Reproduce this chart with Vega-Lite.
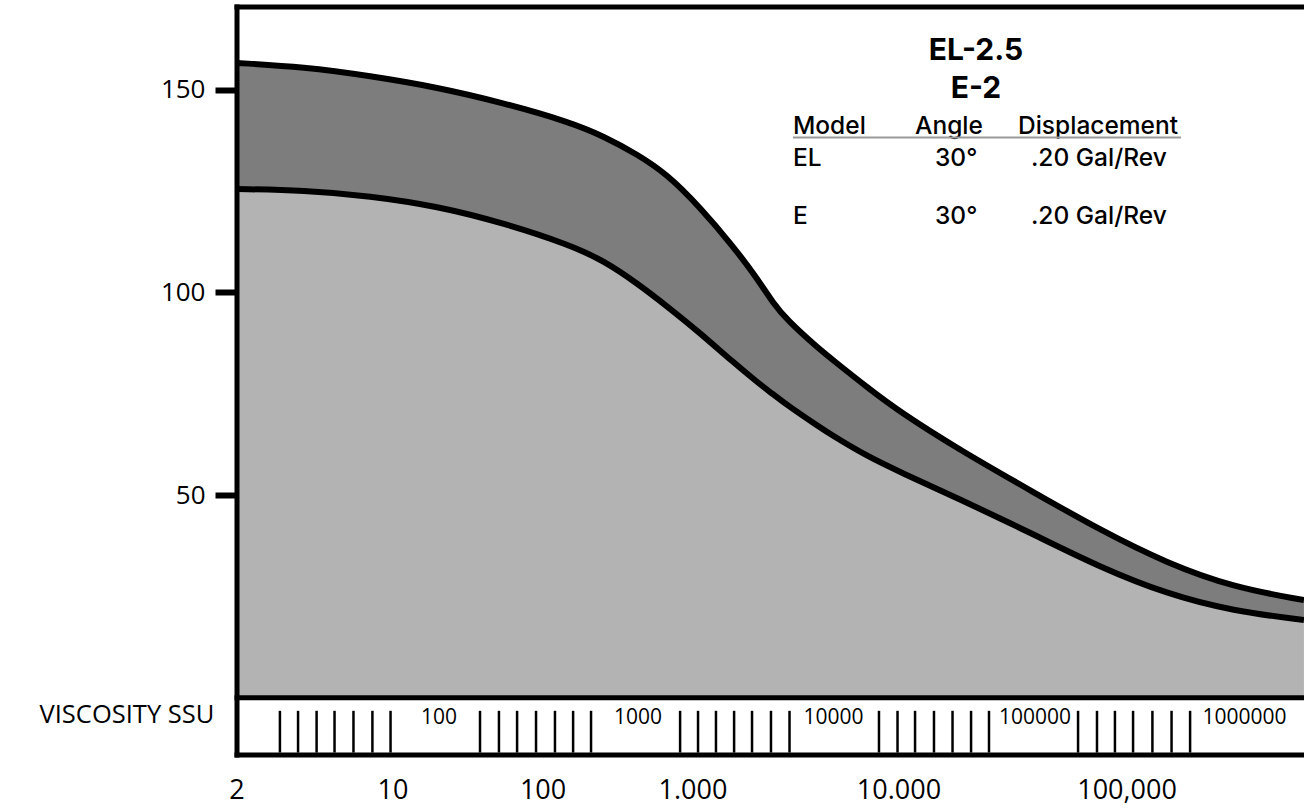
{
  "$schema": "https://vega.github.io/schema/vega-lite/v6.json",
  "width": 1067,
  "height": 748,
  "autosize": {"type": "none"},
  "padding": {"left": 237, "top": 7, "right": 0, "bottom": 53},
  "background": "white",
  "config": {"view": {"stroke": null}, "axis": {"grid": false}},
  "resolve": {"axis": {"y": "independent"}},
  "datasets": {
    "curves": [
      {"log_ssu": 1.000, "EL": 156.6, "E": 125.5},
      {"log_ssu": 1.333, "EL": 155.6, "E": 125.2},
      {"log_ssu": 1.660, "EL": 153.4, "E": 123.8},
      {"log_ssu": 1.993, "EL": 150.6, "E": 121.3},
      {"log_ssu": 2.325, "EL": 146.7, "E": 117.1},
      {"log_ssu": 2.653, "EL": 142.0, "E": 111.7},
      {"log_ssu": 2.821, "EL": 138.5, "E": 107.8},
      {"log_ssu": 2.985, "EL": 134.1, "E": 102.3},
      {"log_ssu": 3.134, "EL": 129.2, "E": 96.6},
      {"log_ssu": 3.298, "EL": 121.0, "E": 90.0},
      {"log_ssu": 3.462, "EL": 111.4, "E": 82.8},
      {"log_ssu": 3.581, "EL": 103.5, "E": 77.9},
      {"log_ssu": 3.660, "EL": 97.4, "E": 74.9},
      {"log_ssu": 3.730, "EL": 93.2, "E": 72.2},
      {"log_ssu": 3.878, "EL": 86.5, "E": 67.2},
      {"log_ssu": 3.958, "EL": 83.3, "E": 64.6},
      {"log_ssu": 4.127, "EL": 76.6, "E": 59.6},
      {"log_ssu": 4.290, "EL": 70.5, "E": 55.7},
      {"log_ssu": 4.588, "EL": 61.1, "E": 49.0},
      {"log_ssu": 4.950, "EL": 50.8, "E": 40.4},
      {"log_ssu": 5.283, "EL": 41.4, "E": 32.2},
      {"log_ssu": 5.615, "EL": 33.2, "E": 25.6},
      {"log_ssu": 5.943, "EL": 27.3, "E": 21.4},
      {"log_ssu": 6.295, "EL": 24.1, "E": 19.2}
    ],
    "ticks": [
      {"log_ssu": 1.213}, {"log_ssu": 1.303}, {"log_ssu": 1.395}, {"log_ssu": 1.484}, {"log_ssu": 1.578}, {"log_ssu": 1.672}, {"log_ssu": 1.762},
      {"log_ssu": 2.206}, {"log_ssu": 2.300}, {"log_ssu": 2.390}, {"log_ssu": 2.484}, {"log_ssu": 2.578}, {"log_ssu": 2.668}, {"log_ssu": 2.757},
      {"log_ssu": 3.199}, {"log_ssu": 3.288}, {"log_ssu": 3.377}, {"log_ssu": 3.467}, {"log_ssu": 3.556}, {"log_ssu": 3.650}, {"log_ssu": 3.742},
      {"log_ssu": 4.186}, {"log_ssu": 4.278}, {"log_ssu": 4.365}, {"log_ssu": 4.459}, {"log_ssu": 4.551}, {"log_ssu": 4.643}, {"log_ssu": 4.732},
      {"log_ssu": 5.174}, {"log_ssu": 5.268}, {"log_ssu": 5.357}, {"log_ssu": 5.447}, {"log_ssu": 5.543}, {"log_ssu": 5.638}, {"log_ssu": 5.730}
    ],
    "strip_labels": [
      {"label": "100", "log_ssu": 2.0025},
      {"label": "1000", "log_ssu": 2.99},
      {"label": "10000", "log_ssu": 3.96},
      {"label": "100000", "log_ssu": 4.96},
      {"label": "1000000", "log_ssu": 6.0}
    ],
    "bottom_labels": [
      {"label": "2", "log_ssu": 1.0},
      {"label": "10", "log_ssu": 1.774},
      {"label": "100", "log_ssu": 2.519},
      {"label": "1.000", "log_ssu": 3.263},
      {"label": "10.000", "log_ssu": 4.285},
      {"label": "100,000", "log_ssu": 5.417}
    ]
  },
  "layer": [
    {
      "data": {"name": "curves"},
      "mark": {"type": "area", "interpolate": "basis", "color": "#b3b3b3"},
      "encoding": {
        "x": {"field": "log_ssu", "type": "quantitative", "scale": {"domain": [1, 6.2953], "nice": false, "zero": false}, "axis": null},
        "y": {"field": "E", "type": "quantitative", "scale": {"domain": [-14.1, 170.4], "nice": false, "zero": false},
          "axis": {"values": [50, 100, 150], "tickSize": 22, "tickWidth": 6, "tickColor": "black", "domain": false,
            "labelFont": "Open Sans", "labelFontSize": 26, "labelColor": "black", "labelPadding": 10, "title": null, "grid": false}},
        "y2": {"datum": 0}
      }
    },
    {
      "data": {"name": "curves"},
      "mark": {"type": "area", "interpolate": "basis", "color": "#7d7d7d"},
      "encoding": {
        "x": {"field": "log_ssu", "type": "quantitative", "axis": null},
        "y": {"field": "EL", "type": "quantitative", "axis": null},
        "y2": {"field": "E"}
      }
    },
    {
      "data": {"name": "curves"},
      "mark": {"type": "line", "interpolate": "basis", "color": "black", "strokeWidth": 6},
      "encoding": {
        "x": {"field": "log_ssu", "type": "quantitative", "axis": null},
        "y": {"field": "E", "type": "quantitative", "axis": null}
      }
    },
    {
      "data": {"name": "curves"},
      "mark": {"type": "line", "interpolate": "basis", "color": "black", "strokeWidth": 6},
      "encoding": {
        "x": {"field": "log_ssu", "type": "quantitative", "axis": null},
        "y": {"field": "EL", "type": "quantitative", "axis": null}
      }
    },
    {
      "data": {"values": [{}]},
      "mark": {"type": "rule", "color": "black", "strokeWidth": 5, "strokeCap": "square"},
      "encoding": {"y": {"datum": 0, "type": "quantitative", "axis": null}}
    },
    {
      "data": {"values": [{}]},
      "mark": {"type": "rule", "color": "black", "strokeWidth": 5, "strokeCap": "square"},
      "encoding": {"y": {"datum": 170.4, "type": "quantitative", "axis": null}}
    },
    {
      "data": {"values": [{}]},
      "mark": {"type": "rule", "color": "black", "strokeWidth": 5, "strokeCap": "square"},
      "encoding": {"y": {"datum": -14.1, "type": "quantitative", "axis": null}}
    },
    {
      "data": {"values": [{}]},
      "mark": {"type": "rule", "color": "black", "strokeWidth": 5, "strokeCap": "square"},
      "encoding": {"x": {"datum": 1, "type": "quantitative", "axis": null}}
    },
    {
      "data": {"name": "ticks"},
      "mark": {"type": "rule", "color": "black", "strokeWidth": 2.5},
      "encoding": {
        "x": {"field": "log_ssu", "type": "quantitative", "axis": null},
        "y": {"datum": -3.2, "type": "quantitative", "axis": null},
        "y2": {"datum": -13.5}
      }
    },
    {
      "data": {"name": "strip_labels"},
      "mark": {"type": "text", "font": "Open Sans", "fontSize": 21, "color": "black", "baseline": "middle", "align": "center"},
      "encoding": {
        "x": {"field": "log_ssu", "type": "quantitative", "axis": null},
        "y": {"datum": -5.0, "type": "quantitative", "axis": null},
        "text": {"field": "label"}
      }
    },
    {
      "data": {"name": "bottom_labels"},
      "mark": {"type": "text", "font": "Open Sans", "fontSize": 27, "color": "black", "baseline": "middle", "align": "center"},
      "encoding": {
        "x": {"field": "log_ssu", "type": "quantitative", "axis": null},
        "y": {"datum": -22.9, "type": "quantitative", "axis": null},
        "text": {"field": "label"}
      }
    },
    {
      "data": {"values": [{"label": "VISCOSITY SSU"}]},
      "mark": {"type": "text", "font": "Open Sans", "fontSize": 25.5, "color": "black", "baseline": "middle", "align": "left"},
      "encoding": {
        "x": {"datum": 0.02, "type": "quantitative", "axis": null},
        "y": {"datum": -4.2, "type": "quantitative", "axis": null},
        "text": {"field": "label"}
      }
    },
    {
      "data": {"values": [{}]},
      "mark": {"type": "text", "font": "Inter", "fontSize": 30, "fontWeight": "bold", "color": "black", "baseline": "alphabetic", "align": "center", "lineHeight": 38, "text": ["EL-2.5", "E-2"]},
      "encoding": {
        "x": {"datum": 4.6675, "type": "quantitative", "axis": null},
        "y": {"datum": 157.3, "type": "quantitative", "axis": null}
      }
    },
    {
      "data": {"values": [{"x": 3.759, "t": "Model"}, {"x": 4.365, "t": "Angle"}, {"x": 4.876, "t": "Displacement"}]},
      "mark": {"type": "text", "font": "Inter", "fontSize": 24.5, "fontWeight": 500, "color": "black", "baseline": "alphabetic", "align": "left"},
      "encoding": {
        "x": {"field": "x", "type": "quantitative", "axis": null},
        "y": {"datum": 139.0, "type": "quantitative", "axis": null},
        "text": {"field": "t"}
      }
    },
    {
      "data": {"values": [{}]},
      "mark": {"type": "rule", "color": "#9a9a9a", "strokeWidth": 2},
      "encoding": {
        "x": {"datum": 3.759, "type": "quantitative", "axis": null},
        "x2": {"datum": 5.685},
        "y": {"datum": 138.2, "type": "quantitative", "axis": null}
      }
    },
    {
      "data": {"values": [
        {"Model": "EL", "Angle": "30°", "Displacement": ".20 Gal/Rev", "row": 131.2},
        {"Model": "E", "Angle": "30°", "Displacement": ".20 Gal/Rev", "row": 116.9}
      ]},
      "layer": [
        {
          "mark": {"type": "text", "font": "Inter", "fontSize": 24.5, "fontWeight": 500, "color": "black", "baseline": "alphabetic", "align": "left"},
          "encoding": {
            "x": {"datum": 3.759, "type": "quantitative", "axis": null},
            "y": {"field": "row", "type": "quantitative", "axis": null},
            "text": {"field": "Model"}
          }
        },
        {
          "mark": {"type": "text", "font": "Inter", "fontSize": 24.5, "fontWeight": 500, "color": "black", "baseline": "alphabetic", "align": "left"},
          "encoding": {
            "x": {"datum": 4.464, "type": "quantitative", "axis": null},
            "y": {"field": "row", "type": "quantitative", "axis": null},
            "text": {"field": "Angle"}
          }
        },
        {
          "mark": {"type": "text", "font": "Inter", "fontSize": 24.5, "fontWeight": 500, "color": "black", "baseline": "alphabetic", "align": "left"},
          "encoding": {
            "x": {"datum": 4.940, "type": "quantitative", "axis": null},
            "y": {"field": "row", "type": "quantitative", "axis": null},
            "text": {"field": "Displacement"}
          }
        }
      ]
    }
  ]
}
